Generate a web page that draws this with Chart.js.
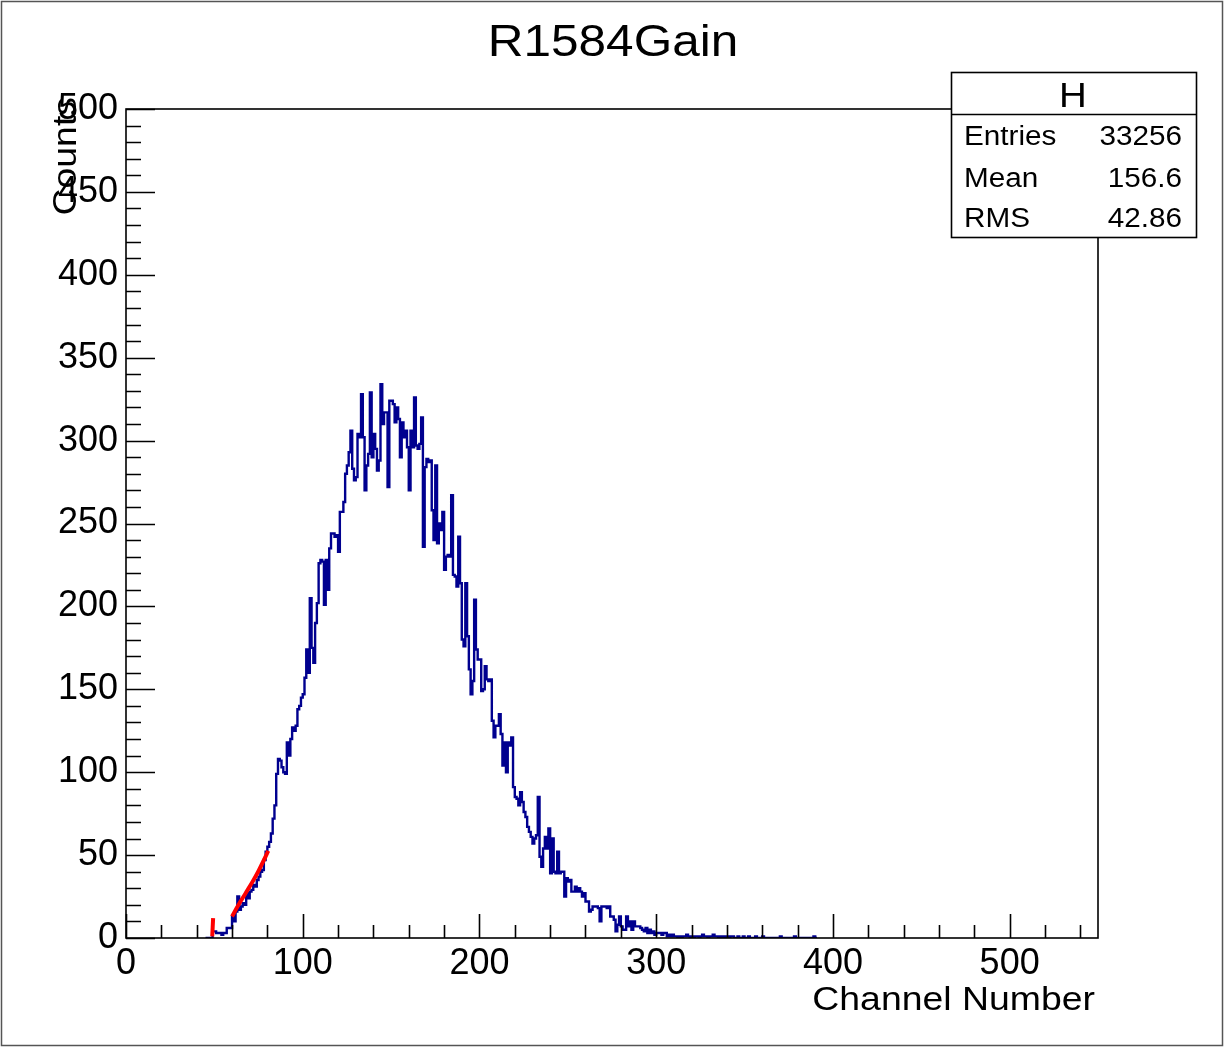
<!DOCTYPE html>
<html>
<head>
<meta charset="utf-8">
<style>
  html, body { margin: 0; padding: 0; background: #ffffff; }
  #wrap { width: 1225px; height: 1047px; position: relative; }
</style>
<script src="https://cdn.jsdelivr.net/npm/chart.js@4.4.1/dist/chart.umd.min.js"></script>
</head>
<body>
<div id="wrap"><canvas id="gainChart" width="1225" height="1047"></canvas></div>
<script>
// histogram: one bin per channel, counts start at channelStart
const channelStart = 45;
const counts = [
    0, 0, 0, 0, 4,
    4, 3, 3, 3, 2, 3, 3, 6, 6, 6,
    13, 10, 16, 25, 17, 19, 21, 20, 27, 24,
    28, 29, 32, 31, 35, 37, 40, 41, 47, 52,
    55, 58, 63, 72, 80, 99, 108, 107, 103, 100,
    99, 118, 110, 120, 127, 125, 128, 138, 140, 145,
    147, 157, 174, 160, 205, 175, 166, 190, 202, 226,
    228, 227, 201, 228, 210, 235, 244, 244, 242, 243,
    233, 257, 257, 263, 280, 285, 293, 306, 283, 276,
    278, 304, 302, 328, 302, 270, 285, 292, 329, 290,
    304, 295, 282, 288, 334, 310, 317, 317, 272, 324,
    324, 322, 311, 320, 313, 290, 311, 302, 306, 296,
    270, 306, 296, 326, 297, 295, 298, 314, 236, 284,
    289, 287, 288, 258, 240, 285, 238, 250, 246, 257,
    222, 230, 231, 230, 267, 219, 218, 212, 242, 214,
    180, 176, 214, 182, 162, 147, 155, 204, 174, 168,
    168, 149, 150, 164, 156, 155, 156, 131, 121, 128,
    128, 135, 123, 104, 118, 100, 118, 116, 121, 91,
    85, 84, 80, 88, 82, 76, 73, 67, 64, 61,
    57, 60, 62, 85, 49, 43, 54, 61, 54, 66,
    39, 60, 40, 39, 52, 39, 40, 40, 25, 36,
    34, 35, 28, 28, 31, 28, 30, 28, 25, 27,
    22, 22, 16, 17, 19, 19, 19, 18, 10, 19,
    19, 19, 18, 19, 13, 13, 11, 4, 8, 13,
    7, 5, 5, 13, 7, 10, 5, 10, 7, 7,
    7, 6, 5, 4, 6, 3, 5, 3, 4, 2,
    3, 3, 3, 2, 3, 3, 1, 2, 1, 2,
    1, 1, 0, 1, 0, 1, 1, 2, 1, 0,
    1, 0, 1, 1, 0, 1, 2, 1, 1, 0,
    1, 1, 2, 1, 1, 0, 1, 0, 1, 0,
    1, 0, 1, 1, 0, 0, 1, 0, 0, 1,
    0, 0, 1, 0, 0, 0, 1, 0, 0, 0,
    1, 0, 0, 0, 0, 0, 0, 0, 0, 0,
    1, 0, 0, 0, 0, 0, 0, 0, 1, 0,
    0, 0, 0, 0, 0, 0, 0, 0, 0, 1,
    0,
];

// red fit curve (null = gap)
const fitX = [48.8, 49.3, null, 60, 64.5, 70, 75, 80.5];
const fitY = [1, 12, null, 13, 21.5, 31, 40.5, 52.5];

const xTickValues = [0, 100, 200, 300, 400, 500];
const yTickValues = [0, 50, 100, 150, 200, 250, 300, 350, 400, 450, 500];

const statLabels = ['Entries', 'Mean', 'RMS'];
const statValues = ['33256', '156.6', '42.86'];

const FONT = '"Liberation Sans", Arial, Helvetica, sans-serif';
// ROOT's text comes out a bit wider than Liberation Sans
const STRETCH = 1.1;

function buildHistPoints() {
    const pts = counts.map((c, i) => ({ x: channelStart + i, y: c }));
    pts.push({ x: channelStart + counts.length, y: 0 });
    return pts;
}

function buildFitPoints() {
    return fitX.map((x, i) => (x === null ? { x: NaN, y: null } : { x: x, y: fitY[i] }));
}

function wideText(ctx, text, x, y, align) {
    ctx.save();
    ctx.translate(x, y);
    ctx.scale(STRETCH, 1);
    ctx.textAlign = align;
    ctx.fillText(text, 0, 0);
    ctx.restore();
}

// ROOT-like decorations: frame, inner ticks, title, stats box
const rootFrame = {
    id: 'rootFrame',
    afterDraw(chart) {
        const ctx = chart.ctx;
        const a = chart.chartArea;
        const xs = chart.scales.x;
        const ys = chart.scales.y;

        ctx.save();

        // outer canvas border
        ctx.strokeStyle = '#555555';
        ctx.lineWidth = 1.5;
        ctx.strokeRect(1.5, 1.5, 1221, 1044);

        // frame
        ctx.strokeStyle = '#000000';
        ctx.lineWidth = 1.6;
        ctx.strokeRect(a.left, a.top, a.right - a.left, a.bottom - a.top);

        // y ticks (inside)
        ctx.beginPath();
        for (let v = 0; v <= 500; v += 10) {
            const y = Math.round(ys.getPixelForValue(v)) + 0.5;
            const len = v % 50 === 0 ? 29 : 15;
            ctx.moveTo(a.left, y);
            ctx.lineTo(a.left + len, y);
        }
        // x ticks (inside)
        for (let v = 0; v <= 540; v += 20) {
            const x = Math.round(xs.getPixelForValue(v)) + 0.5;
            const len = v % 100 === 0 ? 24 : 13;
            ctx.moveTo(x, a.bottom);
            ctx.lineTo(x, a.bottom - len);
        }
        ctx.lineWidth = 1.6;
        ctx.stroke();

        // title
        ctx.fillStyle = '#000000';
        ctx.textBaseline = 'alphabetic';
        ctx.font = '45px ' + FONT;
        wideText(ctx, 'R1584Gain', 613, 56, 'center');

        // axis titles
        ctx.font = '34px ' + FONT;
        wideText(ctx, 'Channel Number', 1095, 1010, 'right');

        ctx.save();
        ctx.translate(76, 97);
        ctx.rotate(-Math.PI / 2);
        ctx.scale(STRETCH, 1);
        ctx.textAlign = 'right';
        ctx.fillText('Counts', 0, 0);
        ctx.restore();

        // stats box
        const bx = 951.5, by = 72.5, bw = 245, bh = 165;
        ctx.fillStyle = '#ffffff';
        ctx.fillRect(bx, by, bw, bh);
        ctx.strokeStyle = '#000000';
        ctx.lineWidth = 1.6;
        ctx.strokeRect(bx, by, bw, bh);
        ctx.beginPath();
        ctx.moveTo(bx, 114.5);
        ctx.lineTo(bx + bw, 114.5);
        ctx.stroke();

        ctx.fillStyle = '#000000';
        ctx.font = '35px ' + FONT;
        wideText(ctx, 'H', 1073, 107, 'center');

        ctx.font = '27px ' + FONT;
        const rowBase = [145, 187, 227];
        statLabels.forEach((label, i) => {
            wideText(ctx, label, 964, rowBase[i], 'left');
            wideText(ctx, statValues[i], 1182, rowBase[i], 'right');
        });

        ctx.restore();
    },
};

const canvas = document.getElementById('gainChart');

new Chart(canvas.getContext('2d'), {
    type: 'line',
    data: {
        datasets: [
            {
                label: 'fit',
                data: buildFitPoints(),
                borderColor: '#ff0000',
                borderWidth: 4,
                pointRadius: 0,
                fill: false,
                spanGaps: false,
                tension: 0.2,
                order: 1,
            },
            {
                label: 'H',
                data: buildHistPoints(),
                borderColor: '#00008f',
                borderWidth: 2.4,
                pointRadius: 0,
                fill: false,
                stepped: true,
                order: 2,
            },
        ],
    },
    options: {
        responsive: false,
        animation: false,
        devicePixelRatio: 1,
        layout: {
            padding: { top: 109, right: 127, bottom: 0, left: 0 },
        },
        plugins: {
            legend: { display: false },
            tooltip: { enabled: false },
            title: { display: false },
        },
        scales: {
            x: {
                type: 'linear',
                min: 0,
                max: 550,
                grid: { display: false, drawTicks: false },
                border: { display: false },
                afterBuildTicks(scale) {
                    scale.ticks = xTickValues.map((v) => ({ value: v }));
                },
                afterFit(scale) {
                    scale.height = 1047 - 938;
                },
                ticks: {
                    color: '#000000',
                    padding: 4,
                    maxRotation: 0,
                    autoSkip: false,
                    font: { family: FONT, size: 36 },
                },
            },
            y: {
                type: 'linear',
                min: 0,
                max: 500,
                grid: { display: false, drawTicks: false },
                border: { display: false },
                afterBuildTicks(scale) {
                    scale.ticks = yTickValues.map((v) => ({ value: v }));
                },
                afterFit(scale) {
                    scale.width = 126;
                },
                ticks: {
                    color: '#000000',
                    padding: 8,
                    autoSkip: false,
                    font: { family: FONT, size: 36 },
                },
            },
        },
    },
    plugins: [rootFrame],
});
</script>
</body>
</html>
